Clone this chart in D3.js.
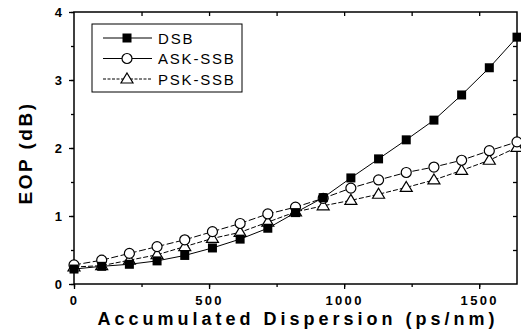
<!DOCTYPE html>
<html>
<head>
<meta charset="utf-8">
<script src="https://cdn.jsdelivr.net/npm/d3@7"></script>
<style>
  body { margin: 0; background: white; }
  svg { display: block; }
  text { font-family: Arial, "Liberation Sans", sans-serif; fill: black; }
</style>
</head>
<body>
<svg id="chart" width="521" height="334"></svg>
<script>
// accumulated dispersion (ps/nm)
var dispersion = [0, 102.5, 205, 307.5, 410, 512.5, 615, 717.5, 820, 922.5, 1025, 1127.5, 1230, 1332.5, 1435, 1537.5, 1640];
// EOP values (dB)
var dsb = [0.22, 0.26, 0.29, 0.34, 0.42, 0.53, 0.66, 0.82, 1.05, 1.27, 1.56, 1.84, 2.12, 2.41, 2.78, 3.18, 3.63];
var askSsb = [0.28, 0.35, 0.45, 0.55, 0.65, 0.77, 0.89, 1.03, 1.13, 1.26, 1.41, 1.53, 1.64, 1.72, 1.82, 1.96, 2.09];
var pskSsb = [0.25, 0.27, 0.35, 0.43, 0.55, 0.67, 0.76, 0.91, 1.06, 1.15, 1.23, 1.32, 1.42, 1.53, 1.67, 1.82, 2.01];
var seriesNames = ["DSB", "ASK-SSB", "PSK-SSB"];
var xTickLabels = [0, 500, 1000, 1500];
var yTickLabels = [0, 1, 2, 3, 4];

var svg = d3.select("#chart");

var x = d3.scaleLinear().domain([0, 1640]).range([74, 517]);
var y = d3.scaleLinear().domain([0, 4]).range([284, 12]);
var fmt = d3.format("d");

var series = [
	{ name: seriesNames[0], values: dsb, marker: "square", dash: null },
	{ name: seriesNames[1], values: askSsb, marker: "circle", dash: "7,2.5" },
	{ name: seriesNames[2], values: pskSsb, marker: "triangle", dash: "5,2" }
];

// axes
var minorX = d3.range(0, 1641, 250);
var minorY = d3.range(0, 4.01, 0.5);

svg.append("g")
	.attr("transform", "translate(0,284)")
	.call(d3.axisBottom(x).tickValues(minorX).tickSize(3).tickFormat(""))
	.call(function(g) { g.select(".domain").remove(); });

svg.append("g")
	.attr("transform", "translate(0,284)")
	.call(d3.axisBottom(x).tickValues(xTickLabels).tickSize(5).tickPadding(7).tickFormat(fmt))
	.call(function(g) { g.select(".domain").remove(); })
	.selectAll("text")
	.style("font-size", "13px")
	.style("font-weight", "bold")
	.style("letter-spacing", "2.3px");

svg.append("g")
	.attr("transform", "translate(0,12)")
	.call(d3.axisBottom(x).tickValues(minorX.slice(1)).tickSize(4).tickFormat(""))
	.call(function(g) { g.select(".domain").remove(); });

svg.append("g")
	.attr("transform", "translate(74,0)")
	.call(d3.axisLeft(y).tickValues(minorY).tickSize(3).tickFormat(""))
	.call(function(g) { g.select(".domain").remove(); });

svg.append("g")
	.attr("transform", "translate(74,0)")
	.call(d3.axisLeft(y).tickValues(yTickLabels).tickSize(5).tickPadding(7).tickFormat(fmt))
	.call(function(g) { g.select(".domain").remove(); })
	.selectAll("text")
	.style("font-size", "13px")
	.style("font-weight", "bold");

svg.append("g")
	.attr("transform", "translate(517,0)")
	.call(d3.axisLeft(y).tickValues(minorY.slice(1, -1)).tickSize(4).tickFormat(""))
	.call(function(g) { g.select(".domain").remove(); });

svg.selectAll(".tick line").attr("stroke-width", 1.3);

// frame
svg.append("rect")
	.attr("x", 74)
	.attr("y", 12)
	.attr("width", 443)
	.attr("height", 272)
	.attr("fill", "none")
	.attr("stroke", "black")
	.attr("stroke-width", 1.5);

// axis titles
svg.append("text")
	.attr("x", 298)
	.attr("y", 325)
	.attr("text-anchor", "middle")
	.style("font-size", "18px")
	.style("font-weight", "bold")
	.style("letter-spacing", "4px")
	.text("Accumulated Dispersion (ps/nm)");

svg.append("text")
	.attr("transform", "translate(32,153) rotate(-90)")
	.attr("text-anchor", "middle")
	.style("font-size", "19px")
	.style("font-weight", "bold")
	.style("letter-spacing", "2.5px")
	.text("EOP (dB)");

// markers
function drawMarker(g, type, cx, cy)
{
	if (type === "square") {
		g.append("rect")
			.attr("x", cx - 4.5).attr("y", cy - 4.5)
			.attr("width", 9).attr("height", 9)
			.attr("fill", "black");
	} else if (type === "circle") {
		g.append("circle")
			.attr("cx", cx).attr("cy", cy).attr("r", 5)
			.attr("fill", "white").attr("stroke", "black").attr("stroke-width", 1.2);
	} else {
		g.append("path")
			.attr("d", "M" + cx + "," + (cy - 6) + "L" + (cx + 6) + "," + (cy + 4) + "L" + (cx - 6) + "," + (cy + 4) + "Z")
			.attr("fill", "white").attr("stroke", "black").attr("stroke-width", 1.2);
	}
}

var line = d3.line()
	.x(function(d) { return x(d[0]); })
	.y(function(d) { return y(d[1]); });

series.forEach(function(s)
{
	var pts = dispersion.map(function(d, i) { return [d, s.values[i]]; });
	svg.append("path")
		.datum(pts)
		.attr("d", line)
		.attr("fill", "none")
		.attr("stroke", "black")
		.attr("stroke-width", 1)
		.attr("stroke-dasharray", s.dash);
});

series.slice().reverse().forEach(function(s)
{
	var g = svg.append("g");
	dispersion.forEach(function(d, i)
	{
		drawMarker(g, s.marker, x(d), y(s.values[i]));
	});
});

// legend
var legend = svg.append("g");
legend.append("rect")
	.attr("x", 92)
	.attr("y", 24)
	.attr("width", 150)
	.attr("height", 68)
	.attr("fill", "white")
	.attr("stroke", "black")
	.attr("stroke-width", 1);

series.forEach(function(s, i)
{
	var ly = 38 + i * 20.5;
	legend.append("line")
		.attr("x1", 103).attr("x2", 152)
		.attr("y1", ly).attr("y2", ly)
		.attr("stroke", "black")
		.attr("stroke-width", 1)
		.attr("stroke-dasharray", i === 2 ? "3,1.5" : null);
	drawMarker(legend, s.marker, 127, ly);
	legend.append("text")
		.attr("x", 158)
		.attr("y", ly + 5.5)
		.style("font-size", "15px")
		.style("letter-spacing", "1.8px")
		.text(s.name);
});
</script>
</body>
</html>
